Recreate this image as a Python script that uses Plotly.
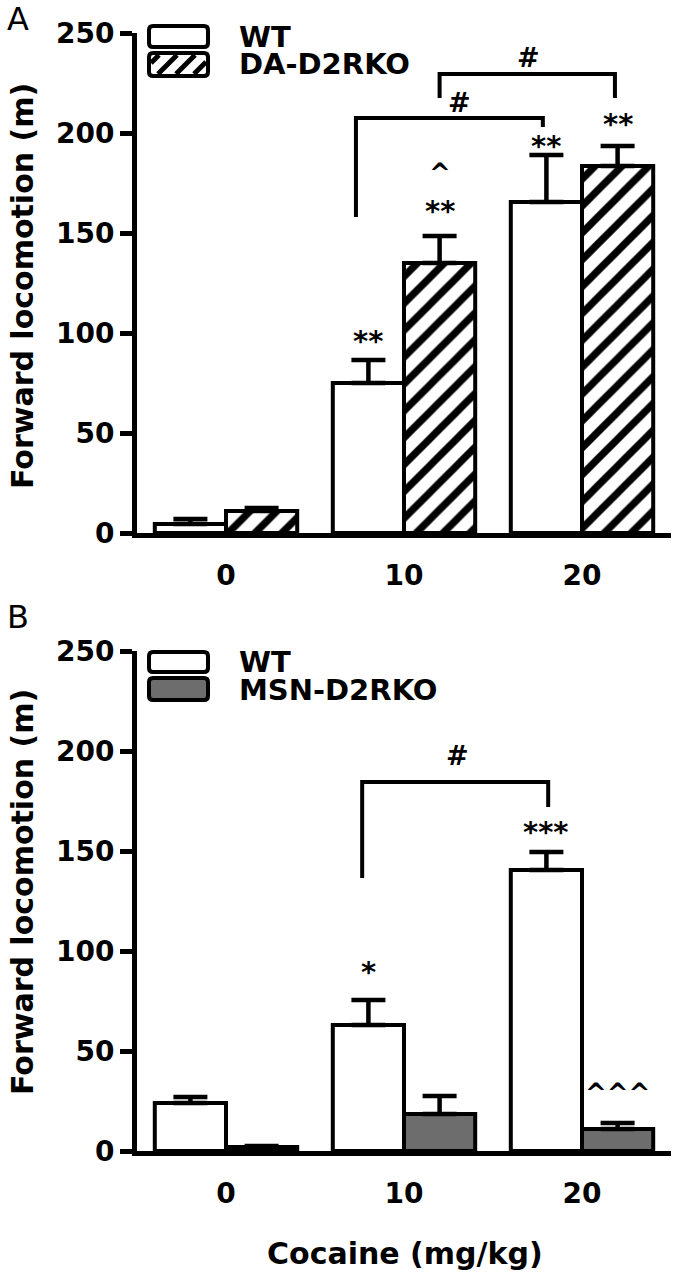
import plotly.graph_objects as go

# ---------------- data ----------------
doses = ["0", "10", "20"]

wt_a = [4.5, 75, 165.5]
wt_a_err = [2.5, 11.5, 23.5]
da_a = [11, 135, 183.5]
da_a_err = [1.5, 13.5, 10]

wt_b = [24, 63, 140.5]
wt_b_err = [3, 12.5, 9]
msn_b = [2, 18.5, 11]
msn_b_err = [0.5, 9, 3]

# significance labels: (x position, y value, text)
sig_a = [(0.8, 98, "**"), (1.2, 163, "**"), (1.2, 182, "^"),
         (1.8, 195.5, "**"), (2.2, 206.5, "**")]
sig_b = [(0.8, 91.5, "*"), (1.8, 161.5, "***"), (2.2, 31, "^^^")]

# brackets: (x_left, x_right, y_left_bottom, y_top, y_right_bottom, label_x, label_y)
brackets_a = [(0.73, 1.78, 158, 207.5, 203, 1.31, 215.5),
              (1.20, 2.185, 217.5, 229.5, 217.5, 1.70, 237.5)]
brackets_b = [(0.765, 1.81, 136.5, 184.5, 172, 1.30, 198)]

# ---------------- layout helpers ----------------
W, H = 677, 1276
def px(xp):
    return xp / W
def py(yp):
    return 1 - yp / H

FONT = "DejaVu Sans, Verdana, sans-serif"
BLACK = "#000000"
GREY = "#6d6d6d"
LW = 4
AXW = 5

fig = go.Figure()

bar_common = dict(marker_line=dict(color=BLACK, width=LW), width=0.4)
err_common = dict(type="data", symmetric=False, color=BLACK, thickness=4.5, width=17)

x_num = list(range(len(doses)))

# Panel A
fig.add_trace(go.Bar(x=x_num, y=wt_a, name="WT", marker_color="white",
                     error_y=dict(array=wt_a_err, arrayminus=[0]*3, **err_common),
                     xaxis="x", yaxis="y", showlegend=False, **bar_common))
fig.add_trace(go.Bar(x=x_num, y=da_a, name="DA-D2RKO",
                     marker=dict(color="white",
                                 pattern=dict(shape="/", fgcolor=BLACK, bgcolor="white",
                                              size=19, solidity=0.38, fillmode="replace")),
                     error_y=dict(array=da_a_err, arrayminus=[0]*3, **err_common),
                     xaxis="x", yaxis="y", showlegend=False, **bar_common))
# Panel B
fig.add_trace(go.Bar(x=x_num, y=wt_b, name="WT", marker_color="white",
                     error_y=dict(array=wt_b_err, arrayminus=[0]*3, **err_common),
                     xaxis="x2", yaxis="y2", showlegend=False, **bar_common))
fig.add_trace(go.Bar(x=x_num, y=msn_b, name="MSN-D2RKO", marker_color=GREY,
                     error_y=dict(array=msn_b_err, arrayminus=[0]*3, **err_common),
                     xaxis="x2", yaxis="y2", showlegend=False, **bar_common))

xdom = [px(137), px(671)]
ax_common = dict(showline=True, linewidth=AXW, linecolor=BLACK, showgrid=False,
                 zeroline=False, mirror=False, automargin=False)
xaxis_common = dict(range=[-0.5, 2.5], tickvals=x_num, ticktext=doses, ticks="",
                    tickfont=dict(family=FONT, size=28, color=BLACK, weight="bold"),
                    ticklabelstandoff=13, domain=xdom, fixedrange=True, **ax_common)
yaxis_common = dict(range=[0, 250], tickvals=[0, 50, 100, 150, 200, 250],
                    ticks="outside", ticklen=12, tickwidth=AXW, tickcolor=BLACK,
                    tickfont=dict(family=FONT, size=28, color=BLACK, weight="bold"),
                    fixedrange=True, **ax_common)

fig.update_layout(
    width=W, height=H, margin=dict(l=0, r=0, t=0, b=0, autoexpand=False),
    paper_bgcolor="white", plot_bgcolor="white",
    barmode="group", bargap=0.2, bargroupgap=0,
    xaxis=dict(anchor="y", **xaxis_common),
    yaxis=dict(anchor="x", domain=[py(533), py(33)], **yaxis_common),
    xaxis2=dict(anchor="y2", **xaxis_common),
    yaxis2=dict(anchor="x2", domain=[py(1151), py(651)], **yaxis_common),
    showlegend=False,
)

shapes = []
annotations = []

def txt(x, y, text, size=28, xref="x", yref="y", xanchor="center", yanchor="middle",
        weight="bold", family=FONT, angle=0, yshift=0, height=None):
    a = dict(x=x, y=y, xref=xref, yref=yref, text=text, showarrow=False,
             xanchor=xanchor, yanchor=yanchor, textangle=angle,
             yshift=yshift, borderpad=0,
             font=dict(family=family, size=size, color=BLACK, weight=weight))
    if height:
        a["height"] = height
    annotations.append(a)

# significance marks
for (x, y, t) in sig_a:
    txt(x, y, t, size=26 if "^" in t else 29, xref="x", yref="y", yshift=-4)
for (x, y, t) in sig_b:
    txt(x, y, t, size=26 if "^" in t else 29, xref="x2", yref="y2", yshift=-4)

def bracket(b, xr, yr):
    xl, xrr, yl, yt, yrb, lx, ly = b
    shapes.append(dict(type="path", xref=xr, yref=yr,
                       path=f"M {xl},{yl} L {xl},{yt} L {xrr},{yt} L {xrr},{yrb}",
                       line=dict(color=BLACK, width=LW)))
    txt(lx, ly, "#", size=27, xref=xr, yref=yr)

for b in brackets_a:
    bracket(b, "x", "y")
for b in brackets_b:
    bracket(b, "x2", "y2")

# legend swatches (rounded rectangles in paper coordinates)
def rrect(x0, y0, x1, y1, fill, r=4):
    p = (f"M {px(x0+r)},{py(y0)} L {px(x1-r)},{py(y0)} Q {px(x1)},{py(y0)} {px(x1)},{py(y0+r)} "
         f"L {px(x1)},{py(y1-r)} Q {px(x1)},{py(y1)} {px(x1-r)},{py(y1)} "
         f"L {px(x0+r)},{py(y1)} Q {px(x0)},{py(y1)} {px(x0)},{py(y1-r)} "
         f"L {px(x0)},{py(y0+r)} Q {px(x0)},{py(y0)} {px(x0+r)},{py(y0)} Z")
    shapes.append(dict(type="path", xref="paper", yref="paper", path=p,
                       fillcolor=fill, line=dict(color=BLACK, width=LW)))

def hatch(x0, y0, x1, y1, period=18):
    # diagonal "/" lines clipped to rectangle (pixel coords, y down)
    h = y1 - y0
    c = x0 - h + 8
    while c < x1:
        sx, sy, ex, ey = c, y1, c + h, y0
        if sx < x0:
            sy = y1 - (x0 - sx); sx = x0
        if ex > x1:
            ey = y0 + (ex - x1); ex = x1
        if ex > sx:
            shapes.append(dict(type="line", xref="paper", yref="paper",
                               x0=px(sx), y0=py(sy), x1=px(ex), y1=py(ey),
                               line=dict(color=BLACK, width=5)))
        c += period

rrect(149, 26, 208, 47, "white")
hatch(151, 55, 206, 74)
rrect(149, 53, 208, 76, "rgba(0,0,0,0)")
rrect(149, 652, 208, 672, "white")
rrect(149, 678, 208, 700, GREY)

txt(px(238), py(37), "WT", size=29, xref="paper", yref="paper", xanchor="left", height=24)
txt(px(238), py(64), "DA-D2RKO", size=29, xref="paper", yref="paper", xanchor="left", height=24)
txt(px(238), py(662), "WT", size=29, xref="paper", yref="paper", xanchor="left", height=24)
txt(px(238), py(690), "MSN-D2RKO", size=29, xref="paper", yref="paper", xanchor="left", height=24)

# y-axis titles
for yc in (286, 892):
    txt(px(22), py(yc), "Forward locomotion (m)", size=30, xref="paper", yref="paper",
        angle=-90)

# x-axis title
txt(px(405), py(1253), "Cocaine (mg/kg)", size=30, xref="paper", yref="paper")

# panel letters
txt(px(18), py(19), "A", size=32, xref="paper", yref="paper", weight="normal")
txt(px(18), py(617), "B", size=32, xref="paper", yref="paper", weight="normal")

fig.update_layout(shapes=shapes, annotations=annotations)
fig.write_html("out.html", config={"displayModeBar": False},
               post_script="document.body.style.margin='0px';")
